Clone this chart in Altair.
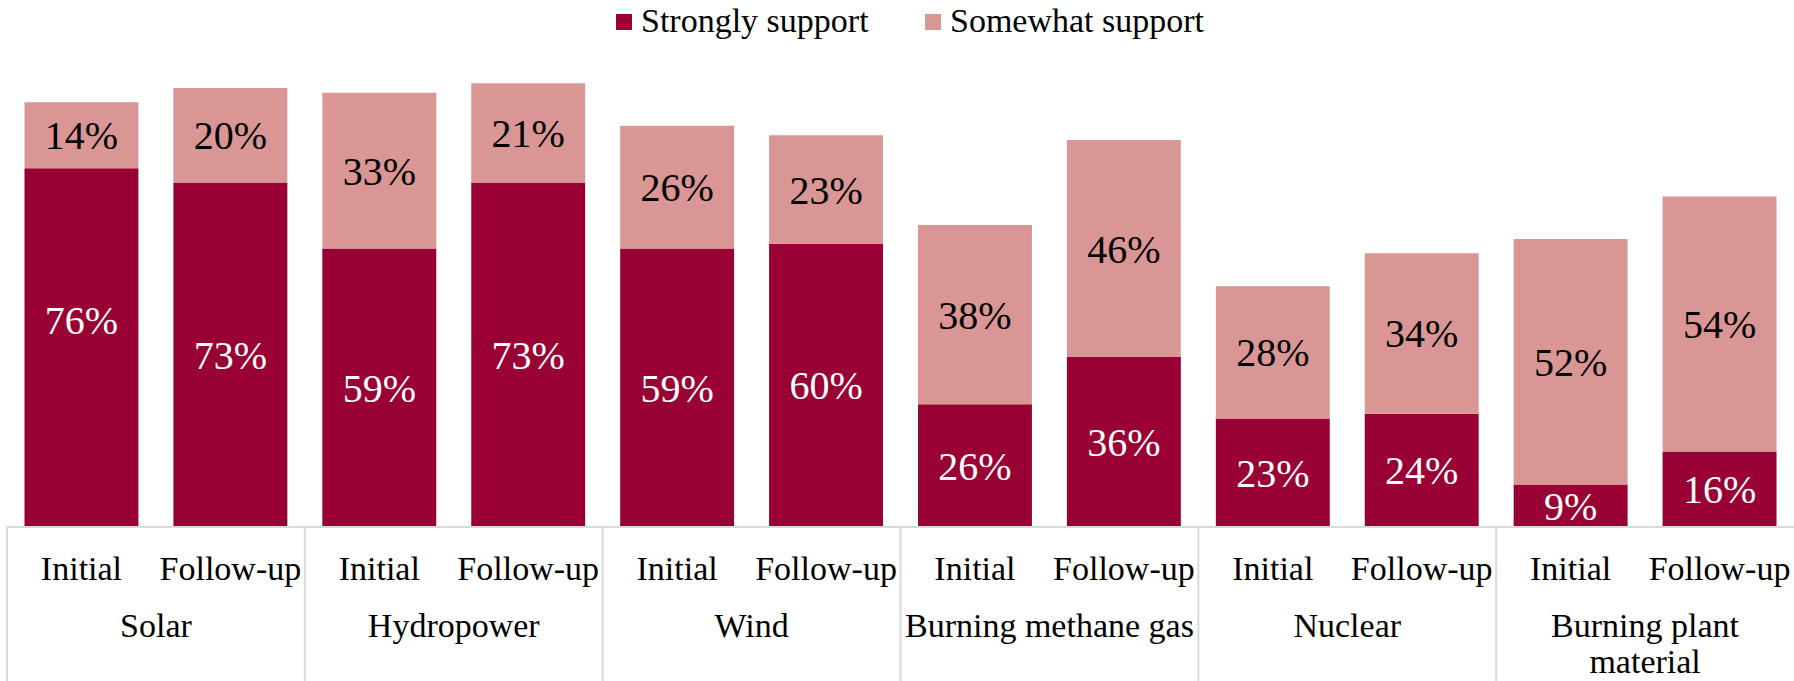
import altair as alt
import pandas as pd

groups = ["Solar", "Hydropower", "Wind", "Burning methane gas", "Nuclear", "Burning plant material"]
group_labels = ["Solar", "Hydropower", "Wind", "Burning methane gas", "Nuclear", "Burning plant|material"]
waves = ["Initial", "Follow-up"]
series = ["Strongly support", "Somewhat support"]

strongly_initial = [76, 59, 59, 26, 23, 9]
strongly_follow = [73, 73, 60, 36, 24, 16]
somewhat_initial = [14, 33, 26, 38, 28, 52]
somewhat_follow = [20, 21, 23, 46, 34, 54]

DARK = "#990033"
PINK = "#D99694"
GRID = "#D9D9D9"
FONT = "Liberation Serif"

rows = []
for i, g in enumerate(groups):
    for w, s_vals, m_vals in [("Initial", strongly_initial, somewhat_initial),
                              ("Follow-up", strongly_follow, somewhat_follow)]:
        rows.append(dict(group=g, wave=w, series="Strongly support", value=s_vals[i], ord=0))
        rows.append(dict(group=g, wave=w, series="Somewhat support", value=m_vals[i], ord=1))
df = pd.DataFrame(rows)

gdf = pd.DataFrame({"group": groups, "glabel": group_labels})
wdf = pd.DataFrame([{"group": g, "wave": w} for g in groups for w in waves])

W, H = 1787, 472

xscale = alt.Scale(domain=groups, paddingInner=0, paddingOuter=0)
xoff = alt.Scale(domain=waves, paddingInner=0.235, paddingOuter=0.1175)
yscale = alt.Scale(domain=[0, 100], nice=False, zero=True)

X = alt.X("group:N", scale=xscale, axis=None, sort=groups)
XO = alt.XOffset("wave:N", scale=xoff, sort=waves)

bars = alt.Chart(df).mark_bar().encode(
    x=X,
    xOffset=XO,
    y=alt.Y("value:Q", stack="zero", scale=yscale, axis=None),
    color=alt.Color(
        "series:N",
        scale=alt.Scale(domain=series, range=[DARK, PINK]),
        sort=series,
        legend=alt.Legend(
            title=None, orient="none", direction="horizontal",
            legendX=600, legendY=-50,
            symbolType="square", symbolSize=256, symbolStrokeWidth=0,
            labelFont=FONT, labelFontSize=34, labelColor="black", labelLimit=0,
            columnPadding=47, symbolOffset=0, labelOffset=0,
        ),
    ),
    order=alt.Order("ord:Q"),
)

lab_base = alt.Chart(df).transform_stack(
    stack="value", as_=["y0", "y1"], groupby=["group", "wave"], sort=[alt.SortField("ord")]
).transform_calculate(
    mid="(datum.y0 + datum.y1) / 2", label="datum.value + '%'"
)

lab_enc = dict(
    x=X,
    xOffset=XO,
    y=alt.Y("mid:Q", scale=yscale, axis=None),
    text=alt.Text("label:N"),
    color=alt.condition(alt.datum.series == "Strongly support", alt.value("white"), alt.value("black")),
)

special = "datum.group == 'Solar' && datum.wave == 'Initial' && datum.series == 'Strongly support'"

labels = lab_base.transform_filter("!(" + special + ")").mark_text(
    font=FONT, fontSize=40, baseline="middle", dy=2
).encode(**lab_enc)

labels_special = lab_base.transform_filter(special).mark_text(
    font=FONT, fontSize=40, baseline="middle", dy=-26
).encode(**lab_enc)

baseline_rule = alt.Chart(pd.DataFrame({"v": [0]})).mark_rule(color=GRID, strokeWidth=2).encode(
    y=alt.Y("v:Q", scale=yscale, axis=None)
)

dividers = alt.Chart(gdf).mark_rule(color=GRID, strokeWidth=2).encode(
    x=alt.X("group:N", scale=xscale, axis=None, sort=groups, bandPosition=0),
    y=alt.value(H),
    y2=alt.value(H + 154),
)

wave_text = alt.Chart(wdf).mark_text(
    font=FONT, fontSize=34, baseline="alphabetic", color="black"
).encode(
    x=X, xOffset=XO, y=alt.value(H + 53), text="wave:N"
)

group_text = alt.Chart(gdf).mark_text(
    font=FONT, fontSize=34, baseline="alphabetic", color="black", lineBreak="|", lineHeight=36
).encode(
    x=alt.X("group:N", scale=xscale, axis=None, sort=groups),
    y=alt.value(H + 110),
    text="glabel:N",
)

chart = alt.layer(
    bars, labels, labels_special, baseline_rule, dividers, wave_text, group_text
).properties(
    width=W, height=H,
    padding={"left": 7, "top": 55, "right": 0, "bottom": 154},
    autosize=alt.AutoSizeParams(type="none"),
).configure_view(stroke=None)

chart.save("out.html", embed_options={"renderer": "svg", "actions": False})
